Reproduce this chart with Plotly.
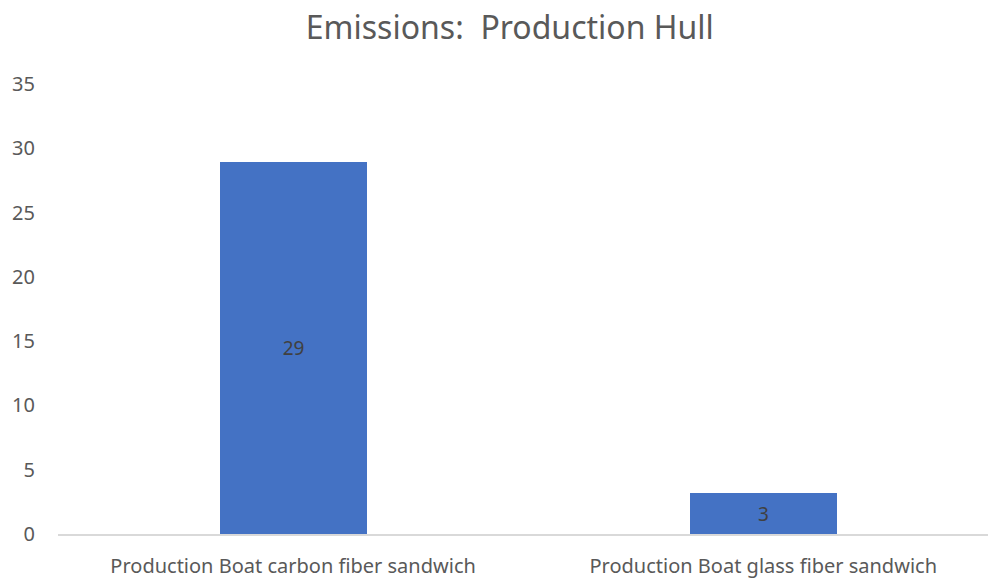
import plotly.graph_objects as go

# Hull production emissions by construction method
categories = ["Production Boat carbon fiber sandwich", "Production Boat glass fiber sandwich"]
emissions = [28.9, 3.2]
y_ticks = [0, 5, 10, 15, 20, 25, 30, 35]

fig = go.Figure(
    go.Bar(
        x=categories,
        y=emissions,
        width=0.313,
        marker=dict(color="#4472C4", line=dict(width=0)),
        texttemplate="%{y:.0f}",
        textposition="inside",
        insidetextanchor="middle",
        textfont=dict(family="Noto Sans", size=19, color="#404040"),
        hoverinfo="x+y",
    )
)

fig.update_layout(
    width=988,
    height=583,
    paper_bgcolor="white",
    plot_bgcolor="white",
    margin=dict(l=58, r=0, t=84, b=49),
    title=dict(
        text="Emissions:  Production Hull",
        x=0.516,
        xanchor="center",
        y=0.953,
        yanchor="middle",
        font=dict(family="Noto Sans", size=32, color="#595959"),
    ),
    showlegend=False,
    bargap=0,
)

fig.update_xaxes(
    range=[-0.5, 1.478],
    automargin=False,
    showgrid=False,
    showline=True,
    linecolor="#D9D9D9",
    linewidth=1.5,
    ticks="",
    ticklabelstandoff=13,
    tickfont=dict(family="Noto Sans", size=20, color="#595959"),
)

fig.update_yaxes(
    range=[0, 35],
    automargin=False,
    tickvals=y_ticks,
    showgrid=False,
    zeroline=False,
    showline=False,
    ticks="",
    ticklabelstandoff=22,
    tickfont=dict(family="Noto Sans", size=20, color="#595959"),
)

fig.write_html("out.html")
